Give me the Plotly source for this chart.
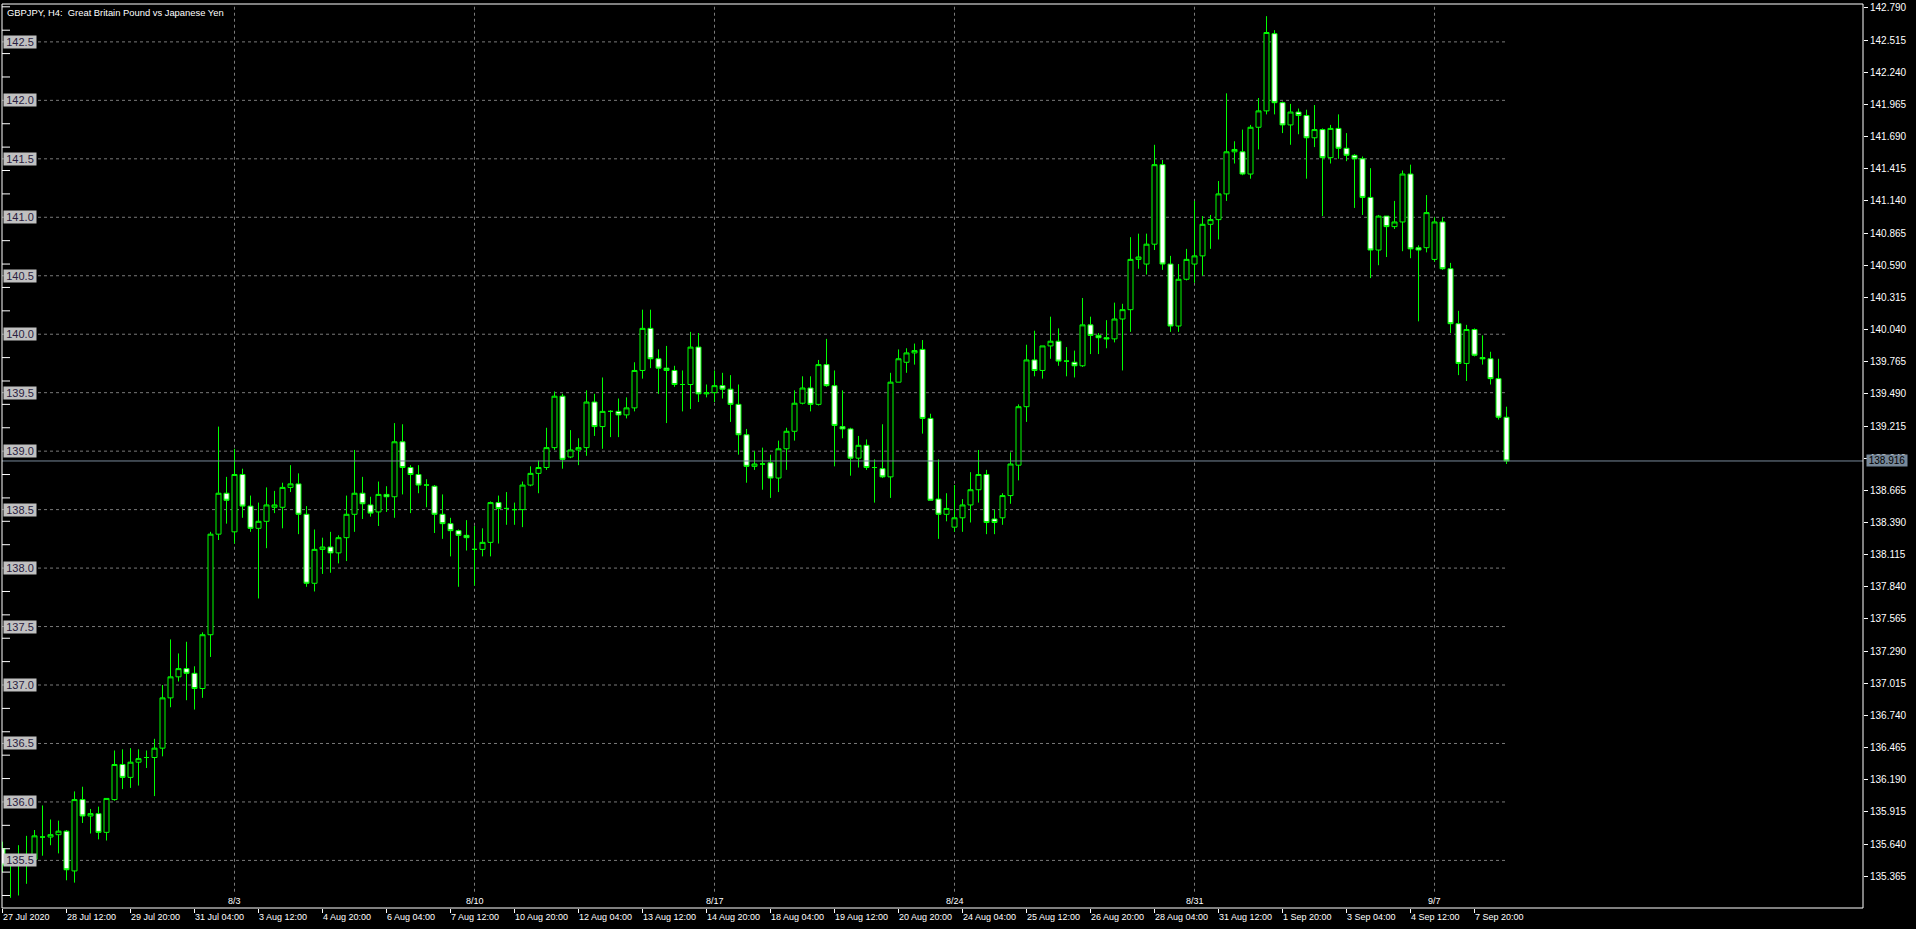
import plotly.graph_objects as go
import pandas as pd

# ---------------- data (GBPJPY H4, bars from 27 Jul 2020 04:00) ----------------
opens = [135.60, 135.46, 135.50, 135.52, 135.51, 135.70, 135.70, 135.72, 135.75, 135.41,
         136.02, 135.88, 135.90, 135.74, 136.02, 136.32, 136.21, 136.34, 136.38, 136.38,
         136.46, 136.89, 137.07, 137.14, 137.10, 136.97, 137.43, 138.29, 138.64, 138.31,
         138.80, 138.53, 138.34, 138.40, 138.52, 138.52, 138.69, 138.72, 138.46, 137.87,
         138.16, 138.18, 138.13, 138.26, 138.46, 138.64, 138.54, 138.48, 138.63, 138.61,
         139.08, 138.86, 138.80, 138.71, 138.70, 138.46, 138.38, 138.32, 138.28, 138.16,
         138.16, 138.22, 138.56, 138.51, 138.50, 138.50, 138.71, 138.81, 138.86, 139.03,
         139.47, 138.95, 139.01, 139.03, 139.42, 139.21, 139.34, 139.34, 139.31, 139.37,
         139.69, 140.05, 139.79, 139.71, 139.69, 139.57, 139.57, 139.89, 139.49, 139.50,
         139.56, 139.53, 139.40, 139.14, 138.87, 138.89, 138.90, 138.77, 139.02, 139.17,
         139.41, 139.54, 139.40, 139.74, 139.56, 139.21, 139.19, 138.94, 139.05, 138.86,
         138.85, 138.78, 139.59, 139.76, 139.84, 139.87, 139.28, 138.59, 138.46, 138.35,
         138.43, 138.54, 138.67, 138.80, 138.42, 138.43, 138.62, 138.88, 139.38, 139.78,
         139.69, 139.90, 139.94, 139.77, 139.76, 139.73, 140.08, 139.99, 139.97, 139.96,
         140.13, 140.21, 140.64, 140.60, 140.77, 141.45, 140.60, 140.07, 140.47, 140.60,
         140.67, 140.94, 140.98, 141.20, 141.56, 141.56, 141.37, 141.77, 141.91, 142.57,
         141.98, 141.79, 141.90, 141.87, 141.68, 141.75, 141.51, 141.76, 141.59, 141.53,
         141.50, 141.17, 140.72, 141.01, 140.92, 140.96, 141.37, 140.74, 140.74, 140.64,
         140.96, 140.56, 140.09, 139.75, 140.04, 139.80, 139.79, 139.62, 139.29]
highs = [135.66, 135.55, 135.63, 135.71, 135.76, 135.97, 135.85, 135.84, 135.76, 136.09,
         136.13, 135.94, 135.96, 136.03, 136.44, 136.45, 136.46, 136.45, 136.44, 136.54,
         137.00, 137.39, 137.27, 137.37, 137.16, 137.45, 138.31, 139.21, 138.78, 139.02,
         138.85, 138.62, 138.56, 138.69, 138.66, 138.73, 138.88, 138.81, 138.53, 138.33,
         138.26, 138.31, 138.28, 138.62, 139.01, 138.78, 138.61, 138.74, 138.70, 139.24,
         139.23, 138.88, 138.88, 138.76, 138.71, 138.63, 138.43, 138.33, 138.41, 138.36,
         138.34, 138.57, 138.62, 138.65, 138.56, 138.74, 138.87, 138.92, 139.20, 139.51,
         139.49, 139.18, 139.11, 139.52, 139.49, 139.63, 139.35, 139.45, 139.46, 139.76,
         140.21, 140.21, 139.87, 139.90, 139.73, 139.69, 140.02, 140.01, 139.57, 139.69,
         139.67, 139.65, 139.57, 139.19, 139.00, 139.03, 138.97, 139.09, 139.20, 139.52,
         139.64, 139.64, 139.78, 139.96, 139.69, 139.52, 139.20, 139.13, 139.10, 138.93,
         139.23, 139.67, 139.87, 139.88, 139.92, 139.95, 139.32, 138.93, 138.64, 138.71,
         138.59, 138.82, 139.01, 138.84, 138.50, 138.64, 138.99, 139.40, 139.91, 140.03,
         139.90, 140.15, 140.05, 139.89, 139.86, 140.31, 140.15, 140.01, 140.12, 140.27,
         140.26, 140.83, 140.86, 140.86, 141.62, 141.49, 140.67, 140.60, 140.73, 141.14,
         141.01, 141.02, 141.31, 142.06, 141.65, 141.75, 141.79, 142.02, 142.72, 142.60,
         141.99, 141.97, 141.93, 141.92, 141.96, 141.76, 141.79, 141.88, 141.72, 141.54,
         141.52, 141.42, 141.02, 141.01, 141.14, 141.40, 141.45, 140.76, 141.19, 141.00,
         141.00, 140.61, 140.20, 140.08, 140.05, 139.99, 139.85, 139.79, 139.38]
lows = [135.40, 135.18, 135.20, 135.30, 135.50, 135.54, 135.63, 135.56, 135.33, 135.31,
        135.82, 135.73, 135.68, 135.67, 136.01, 136.11, 136.12, 136.14, 136.29, 136.05,
        136.39, 136.81, 137.03, 136.87, 136.79, 136.89, 137.24, 138.24, 138.38, 138.21,
        138.43, 138.31, 137.74, 138.17, 138.47, 138.34, 138.65, 138.29, 137.84, 137.80,
        137.95, 137.96, 138.04, 138.06, 138.31, 138.42, 138.44, 138.36, 138.48, 138.43,
        138.63, 138.47, 138.64, 138.52, 138.30, 138.25, 138.10, 137.84, 138.15, 137.85,
        138.10, 138.10, 138.21, 138.37, 138.37, 138.35, 138.70, 138.64, 138.84, 139.01,
        138.85, 138.94, 138.88, 138.96, 139.13, 139.02, 139.12, 139.12, 139.28, 139.34,
        139.62, 139.71, 139.49, 139.24, 139.55, 139.34, 139.36, 139.42, 139.46, 139.42,
        139.45, 139.25, 138.97, 138.73, 138.84, 138.67, 138.60, 138.65, 138.84, 139.09,
        139.40, 139.34, 139.39, 139.55, 138.87, 139.11, 138.79, 138.86, 138.84, 138.56,
        138.77, 138.60, 139.59, 139.67, 139.74, 139.15, 138.58, 138.25, 138.40, 138.31,
        138.31, 138.39, 138.56, 138.29, 138.29, 138.37, 138.55, 138.75, 139.25, 139.64,
        139.62, 139.79, 139.73, 139.64, 139.63, 139.72, 139.83, 139.83, 139.88, 139.93,
        139.69, 140.02, 140.56, 140.51, 140.72, 140.55, 140.02, 140.02, 140.46, 140.44,
        140.50, 140.73, 140.81, 141.14, 141.46, 141.36, 141.33, 141.58, 141.88, 141.88,
        141.72, 141.62, 141.71, 141.33, 141.60, 141.01, 141.46, 141.50, 141.48, 141.08,
        141.02, 140.48, 140.59, 140.66, 140.90, 140.71, 140.65, 140.11, 140.70, 140.62,
        140.55, 140.01, 139.65, 139.60, 139.81, 139.74, 139.57, 139.27, 138.89]
closes = [135.46, 135.50, 135.52, 135.51, 135.71, 135.70, 135.72, 135.75, 135.42, 136.02,
          135.88, 135.90, 135.74, 136.03, 136.32, 136.21, 136.34, 136.37, 136.38, 136.46,
          136.89, 137.07, 137.14, 137.10, 136.97, 137.43, 138.29, 138.64, 138.58, 138.80,
          138.53, 138.34, 138.40, 138.54, 138.54, 138.69, 138.72, 138.46, 137.87, 138.16,
          138.18, 138.13, 138.26, 138.46, 138.64, 138.55, 138.47, 138.63, 138.61, 139.08,
          138.86, 138.80, 138.71, 138.71, 138.46, 138.38, 138.32, 138.28, 138.26, 138.16,
          138.22, 138.56, 138.51, 138.51, 138.50, 138.71, 138.81, 138.86, 139.03, 139.47,
          138.93, 139.01, 139.03, 139.42, 139.21, 139.34, 139.34, 139.31, 139.37, 139.69,
          140.05, 139.79, 139.71, 139.69, 139.57, 139.57, 139.89, 139.49, 139.50, 139.56,
          139.53, 139.40, 139.14, 138.87, 138.89, 138.89, 138.77, 139.02, 139.17, 139.41,
          139.54, 139.40, 139.74, 139.56, 139.22, 139.19, 138.94, 139.05, 138.86, 138.86,
          138.78, 139.59, 139.79, 139.84, 139.86, 139.28, 138.58, 138.46, 138.51, 138.43,
          138.54, 138.67, 138.80, 138.39, 138.39, 138.62, 138.89, 139.38, 139.78, 139.69,
          139.90, 139.94, 139.77, 139.77, 139.73, 140.08, 139.99, 139.97, 139.96, 140.13,
          140.21, 140.64, 140.66, 140.77, 141.45, 140.60, 140.07, 140.47, 140.64, 140.67,
          140.94, 140.98, 141.20, 141.56, 141.58, 141.37, 141.77, 141.91, 142.58, 141.98,
          141.79, 141.90, 141.87, 141.68, 141.75, 141.51, 141.76, 141.59, 141.53, 141.50,
          141.17, 140.72, 141.01, 140.92, 140.96, 141.37, 140.73, 140.72, 141.04, 140.96,
          140.56, 140.09, 139.75, 140.04, 139.82, 139.79, 139.62, 139.29, 138.916]

current_price = 138.916
title_text = "GBPJPY, H4:  Great Britain Pound vs Japanese Yen"

right_ticks = [142.790, 142.515, 142.240, 141.965, 141.690, 141.415, 141.140, 140.865,
               140.590, 140.315, 140.040, 139.765, 139.490, 139.215, 138.940, 138.665,
               138.390, 138.115, 137.840, 137.565, 137.290, 137.015, 136.740, 136.465,
               136.190, 135.915, 135.640, 135.365]
left_labels = [142.5, 142.0, 141.5, 141.0, 140.5, 140.0, 139.5, 139.0, 138.5, 138.0,
               137.5, 137.0, 136.5, 136.0, 135.5]
left_minor = [142.8, 142.6, 142.4, 142.2, 141.8, 141.6, 141.4, 141.2, 140.8, 140.6, 140.4,
              140.2, 139.8, 139.6, 139.4, 139.2, 138.8, 138.6, 138.4, 138.2, 137.8, 137.6,
              137.4, 137.2, 136.8, 136.6, 136.4, 136.2, 135.8, 135.6, 135.4, 135.2]

tick_times = ["2020-07-27 04:00", "2020-07-28 12:00", "2020-07-29 20:00", "2020-07-31 04:00",
              "2020-08-03 12:00", "2020-08-04 20:00", "2020-08-06 04:00", "2020-08-07 12:00",
              "2020-08-10 20:00", "2020-08-12 04:00", "2020-08-13 12:00", "2020-08-14 20:00",
              "2020-08-18 04:00", "2020-08-19 12:00", "2020-08-20 20:00", "2020-08-24 04:00",
              "2020-08-25 12:00", "2020-08-26 20:00", "2020-08-28 04:00", "2020-08-31 12:00",
              "2020-09-01 20:00", "2020-09-03 04:00", "2020-09-04 12:00", "2020-09-07 20:00"]
tick_text = ["27 Jul 2020", "28 Jul 12:00", "29 Jul 20:00", "31 Jul 04:00", "3 Aug 12:00",
             "4 Aug 20:00", "6 Aug 04:00", "7 Aug 12:00", "10 Aug 20:00", "12 Aug 04:00",
             "13 Aug 12:00", "14 Aug 20:00", "18 Aug 04:00", "19 Aug 12:00", "20 Aug 20:00",
             "24 Aug 04:00", "25 Aug 12:00", "26 Aug 20:00", "28 Aug 04:00", "31 Aug 12:00",
             "1 Sep 20:00", "3 Sep 04:00", "4 Sep 12:00", "7 Sep 20:00"]
week_times = ["2020-08-03 00:00", "2020-08-10 00:00", "2020-08-17 00:00",
              "2020-08-24 00:00", "2020-08-31 00:00", "2020-09-07 00:00"]
week_text = ["8/3", "8/10", "8/17", "8/24", "8/31", "9/7"]

# ---------------- bar times (MT4 style: bars indexed without weekend gaps) ----------------
bar_times = []
for d in pd.bdate_range("2020-07-27", "2020-09-10"):
    for h in range(0, 24, 4):
        bar_times.append((d + pd.Timedelta(hours=h)).strftime("%Y-%m-%d %H:%M"))
bar_times = bar_times[bar_times.index("2020-07-27 04:00"):][:len(closes)]
bars = list(range(len(closes)))
tick_pos = [bar_times.index(t) for t in tick_times]
week_pos = [bar_times.index(t) for t in week_times]

GREEN = "#00ff00"
GRID = "#7a7a7a"
FONT = "Liberation Sans, Arial, sans-serif"

fig = go.Figure()
fig.add_trace(go.Candlestick(
    x=bars, open=opens, high=highs, low=lows, close=closes,
    increasing=dict(line=dict(color=GREEN, width=1), fillcolor="#000000"),
    decreasing=dict(line=dict(color=GREEN, width=1), fillcolor="#ffffff"),
    whiskerwidth=0, hoverinfo="skip", showlegend=False,
))

shapes = []
# horizontal dashed grid (drawn up to the last bar)
for v in left_labels:
    shapes.append(dict(type="line", xref="x", yref="y", x0=-0.06, x1=bars[-1], y0=v, y1=v,
                       line=dict(color=GRID, width=1, dash="3px,3px"), layer="below"))
# vertical weekly grid
for p in week_pos:
    shapes.append(dict(type="line", xref="x", yref="paper", x0=p, x1=p, y0=0.018, y1=1,
                       line=dict(color=GRID, width=1, dash="3px,3px"), layer="below"))
# left small ticks
for v in left_minor:
    shapes.append(dict(type="line", xref="paper", yref="y", x0=0, x1=0.0043, y0=v, y1=v,
                       line=dict(color="#ffffff", width=1)))
# current price line
shapes.append(dict(type="line", xref="paper", yref="y", x0=0, x1=1, y0=current_price,
                   y1=current_price, line=dict(color="#778899", width=1)))
# chart frame
shapes.append(dict(type="rect", xref="paper", yref="paper", x0=0, x1=1, y0=0, y1=1,
                   line=dict(color="#ffffff", width=1)))

annotations = []
annotations.append(dict(xref="paper", yref="paper", x=0, y=0.9905, xanchor="left",
                        yanchor="middle", xshift=3, text=title_text, showarrow=False,
                        font=dict(family=FONT, size=9.4, color="#ffffff")))
for v in left_labels:
    annotations.append(dict(xref="paper", yref="y", x=0, y=v, xanchor="left", yanchor="middle",
                            xshift=1, text=f"{v:.1f}", showarrow=False, width=32, height=12,
                            bgcolor="#c0c0c0", borderpad=0,
                            font=dict(family=FONT, size=11, color="#2a2040")))
for p, t in zip(week_pos, week_text):
    annotations.append(dict(xref="x", yref="paper", x=p, y=0.0075, xanchor="center",
                            yanchor="middle", text=t, showarrow=False,
                            font=dict(family=FONT, size=9, color="#ffffff")))
annotations.append(dict(xref="paper", yref="y", x=1, y=current_price, xanchor="left",
                        yanchor="middle", xshift=3, text=f"{current_price:.3f}",
                        showarrow=False, width=40, height=11, bgcolor="#778899", borderpad=0,
                        font=dict(family=FONT, size=10, color="#000000")))

fig.update_layout(
    width=1916, height=929,
    margin=dict(l=2, r=53, t=2, b=21),
    paper_bgcolor="#000000", plot_bgcolor="#000000",
    boxgap=0.375, boxgroupgap=0,
    shapes=shapes, annotations=annotations,
    xaxis=dict(range=[-0.0625, 232.56], tickvals=tick_pos, ticktext=tick_text,
               ticks="outside", ticklen=4, tickcolor="#ffffff", tickwidth=1,
               ticklabelposition="outside right",
               tickfont=dict(family=FONT, size=9, color="#ffffff"),
               showgrid=False, zeroline=False, showline=False,
               rangeslider=dict(visible=False), fixedrange=True),
    yaxis=dict(side="right", range=[135.093, 142.824], tickvals=right_ticks,
               ticktext=[f"{v:.3f}" for v in right_ticks], ticks="outside", ticklen=4,
               tickcolor="#ffffff", tickwidth=1,
               tickfont=dict(family=FONT, size=10, color="#ffffff"),
               showgrid=False, zeroline=False, showline=False, fixedrange=True),
)

fig.write_html("out.html", config={"displayModeBar": False},
               post_script="document.body.style.margin='0px';"
                           "document.body.style.background='#000000';"
                           "document.body.style.overflow='hidden';")
